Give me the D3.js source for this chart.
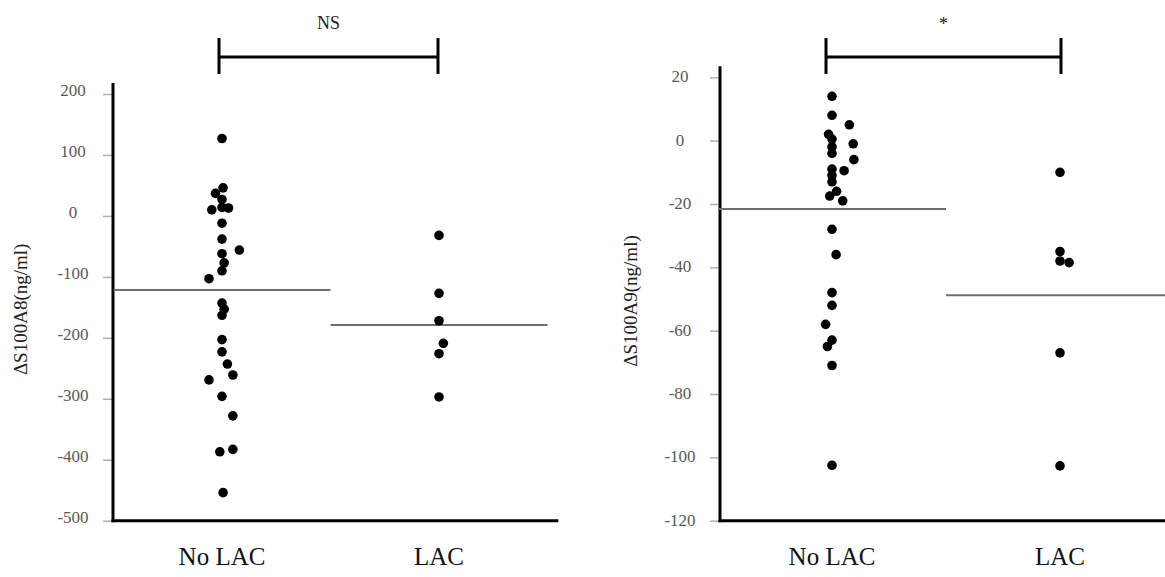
<!DOCTYPE html>
<html>
<head>
<meta charset="utf-8">
<script src="https://cdn.jsdelivr.net/npm/d3@7"></script>
<style>
  body { margin: 0; background: #fff; }
  text { font-family: "Liberation Serif", "DejaVu Serif", serif; }
</style>
</head>
<body>
<svg id="chart" width="1165" height="577"></svg>
<script>
// group names on the x axis
const categories = ['No LAC', 'LAC']

// [x position (1 = No LAC, 2 = LAC, jittered), value]
const a8NoLac = [
  [1.00, 127], [1.005, 46], [0.97, 37], [1.00, 27], [0.953, 10], [1.00, 14], [1.03, 13],
  [1.00, -12], [1.00, -38], [1.08, -56], [1.00, -62], [1.01, -77], [1.00, -90], [0.94, -103],
  [1.00, -143], [1.01, -153], [1.00, -163], [1.00, -203], [1.00, -223], [1.025, -243],
  [1.05, -261], [0.94, -269], [1.00, -296], [1.05, -328], [0.99, -387], [1.05, -383], [1.005, -454]
]
const a8Lac = [[2.00, -32], [2.00, -127], [2.00, -172], [2.02, -209], [2.00, -226], [2.00, -297]]

const a9NoLac = [
  [1.00, 14], [1.00, 8], [1.076, 5], [0.985, 2], [1.00, 0.5], [1.00, -2], [1.00, -4],
  [1.093, -1], [1.096, -6], [1.053, -9.5], [1.00, -9], [1.00, -11], [1.00, -13],
  [0.99, -17.5], [1.02, -16], [1.047, -19], [1.00, -28], [1.018, -36], [1.00, -48],
  [1.00, -52], [0.972, -58], [1.00, -63], [0.98, -65], [1.00, -71], [1.00, -102.5]
]
const a9Lac = [[2.00, -10], [2.00, -35], [2.00, -38], [2.04, -38.5], [2.00, -67], [2.00, -102.7]]

// group mean lines
const a8Means = [-121.5, -179]
const a9Means = [-21.6, -48.8]

// tick labels
const a8Ticks = [200, 100, 0, -100, -200, -300, -400, -500]
const a9Ticks = [20, 0, -20, -40, -60, -80, -100, -120]

const AXIS_BOTTOM = 520.7
const svg = d3.select('#chart')

const panels = [
  {
    title: 'ΔS100A8(ng/ml)', sig: 'NS', points: a8NoLac.concat(a8Lac), means: a8Means,
    ticks: a8Ticks, axisX: 113, xRange: [222, 439], bracket: [219, 438], yTop: 94, labelShift: -4, titleX: 20
  },
  {
    title: 'ΔS100A9(ng/ml)', sig: '*', points: a9NoLac.concat(a9Lac), means: a9Means,
    ticks: a9Ticks, axisX: 720, xRange: [832, 1060], bracket: [826, 1061], yTop: 77.3, labelShift: -1, titleX: 630
  }
]

panels.forEach((p) => {
  const x = d3.scaleLinear().domain([1, 2]).range(p.xRange)
  const y = d3.scaleLinear()
    .domain(d3.extent(p.ticks))
    .range([AXIS_BOTTOM, p.yTop])

  const g = svg.append('g')

  // y axis: gray ticks, labels centred to the left, plain hyphen minus
  const axis = d3.axisLeft(y)
    .tickValues(p.ticks)
    .tickFormat((d) => String(d))
    .tickSize(10)
    .tickSizeOuter(0)
  g.append('g')
    .attr('transform', `translate(${p.axisX},0)`)
    .call(axis)
    .call((a) => {
      a.select('.domain').remove()
      a.selectAll('.tick line').attr('stroke', '#b0b0b0').attr('stroke-width', 1.5)
      a.selectAll('.tick text')
        .attr('text-anchor', 'middle')
        .attr('x', -40)
        .attr('dy', '0.32em')
        .attr('y', p.labelShift)
        .attr('fill', '#595959')
        .style('font-size', '17px')
        .style('font-family', '"Liberation Serif", serif')
    })

  // axis lines (vertical one runs a bit above the top tick)
  g.append('line')
    .attr('x1', p.axisX).attr('x2', p.axisX)
    .attr('y1', p.yTop - 11).attr('y2', AXIS_BOTTOM + 1.5)
    .attr('stroke', '#000').attr('stroke-width', 3)
  g.append('line')
    .attr('x1', p.axisX - 1.5).attr('x2', x(2.55))
    .attr('y1', AXIS_BOTTOM).attr('y2', AXIS_BOTTOM)
    .attr('stroke', '#000').attr('stroke-width', 3)

  // y axis title
  g.append('text')
    .attr('transform', `translate(${p.titleX},${(p.yTop + AXIS_BOTTOM) / 2 + 2}) rotate(-90)`)
    .attr('text-anchor', 'middle')
    .attr('dy', '0.35em')
    .attr('fill', '#222')
    .style('font-size', '19px')
    .text(p.title)

  // mean lines
  g.selectAll('.mean')
    .data(p.means)
    .join('line')
    .attr('class', 'mean')
    .attr('x1', (d, i) => x(i + 0.5))
    .attr('x2', (d, i) => x(i + 1.5))
    .attr('y1', (d) => y(d))
    .attr('y2', (d) => y(d))
    .attr('stroke', '#6e6e6e')
    .attr('stroke-width', 2)

  // dots
  g.selectAll('circle')
    .data(p.points)
    .join('circle')
    .attr('cx', (d) => x(d[0]))
    .attr('cy', (d) => y(d[1]))
    .attr('r', 4.8)
    .attr('fill', '#000')

  // category labels
  g.selectAll('.cat')
    .data(categories)
    .join('text')
    .attr('class', 'cat')
    .attr('x', (d, i) => x(i + 1))
    .attr('y', 565)
    .attr('text-anchor', 'middle')
    .attr('fill', '#111')
    .style('font-size', '25px')
    .text((d) => d)

  // significance bracket
  const [bx1, bx2] = p.bracket
  const bracket = g.append('g').attr('stroke', '#000').attr('stroke-width', 3)
  bracket.append('line').attr('x1', bx1).attr('x2', bx2).attr('y1', 57).attr('y2', 57)
  bracket.append('line').attr('x1', bx1).attr('x2', bx1).attr('y1', 38).attr('y2', 74)
  bracket.append('line').attr('x1', bx2).attr('x2', bx2).attr('y1', 38).attr('y2', 74)

  g.append('text')
    .attr('x', (bx1 + bx2) / 2 + (p.sig === '*' ? 0 : 0))
    .attr('y', p.sig === '*' ? 30 : 29)
    .attr('text-anchor', 'middle')
    .attr('fill', '#222')
    .style('font-size', '18px')
    .text(p.sig)
})
</script>
</body>
</html>
